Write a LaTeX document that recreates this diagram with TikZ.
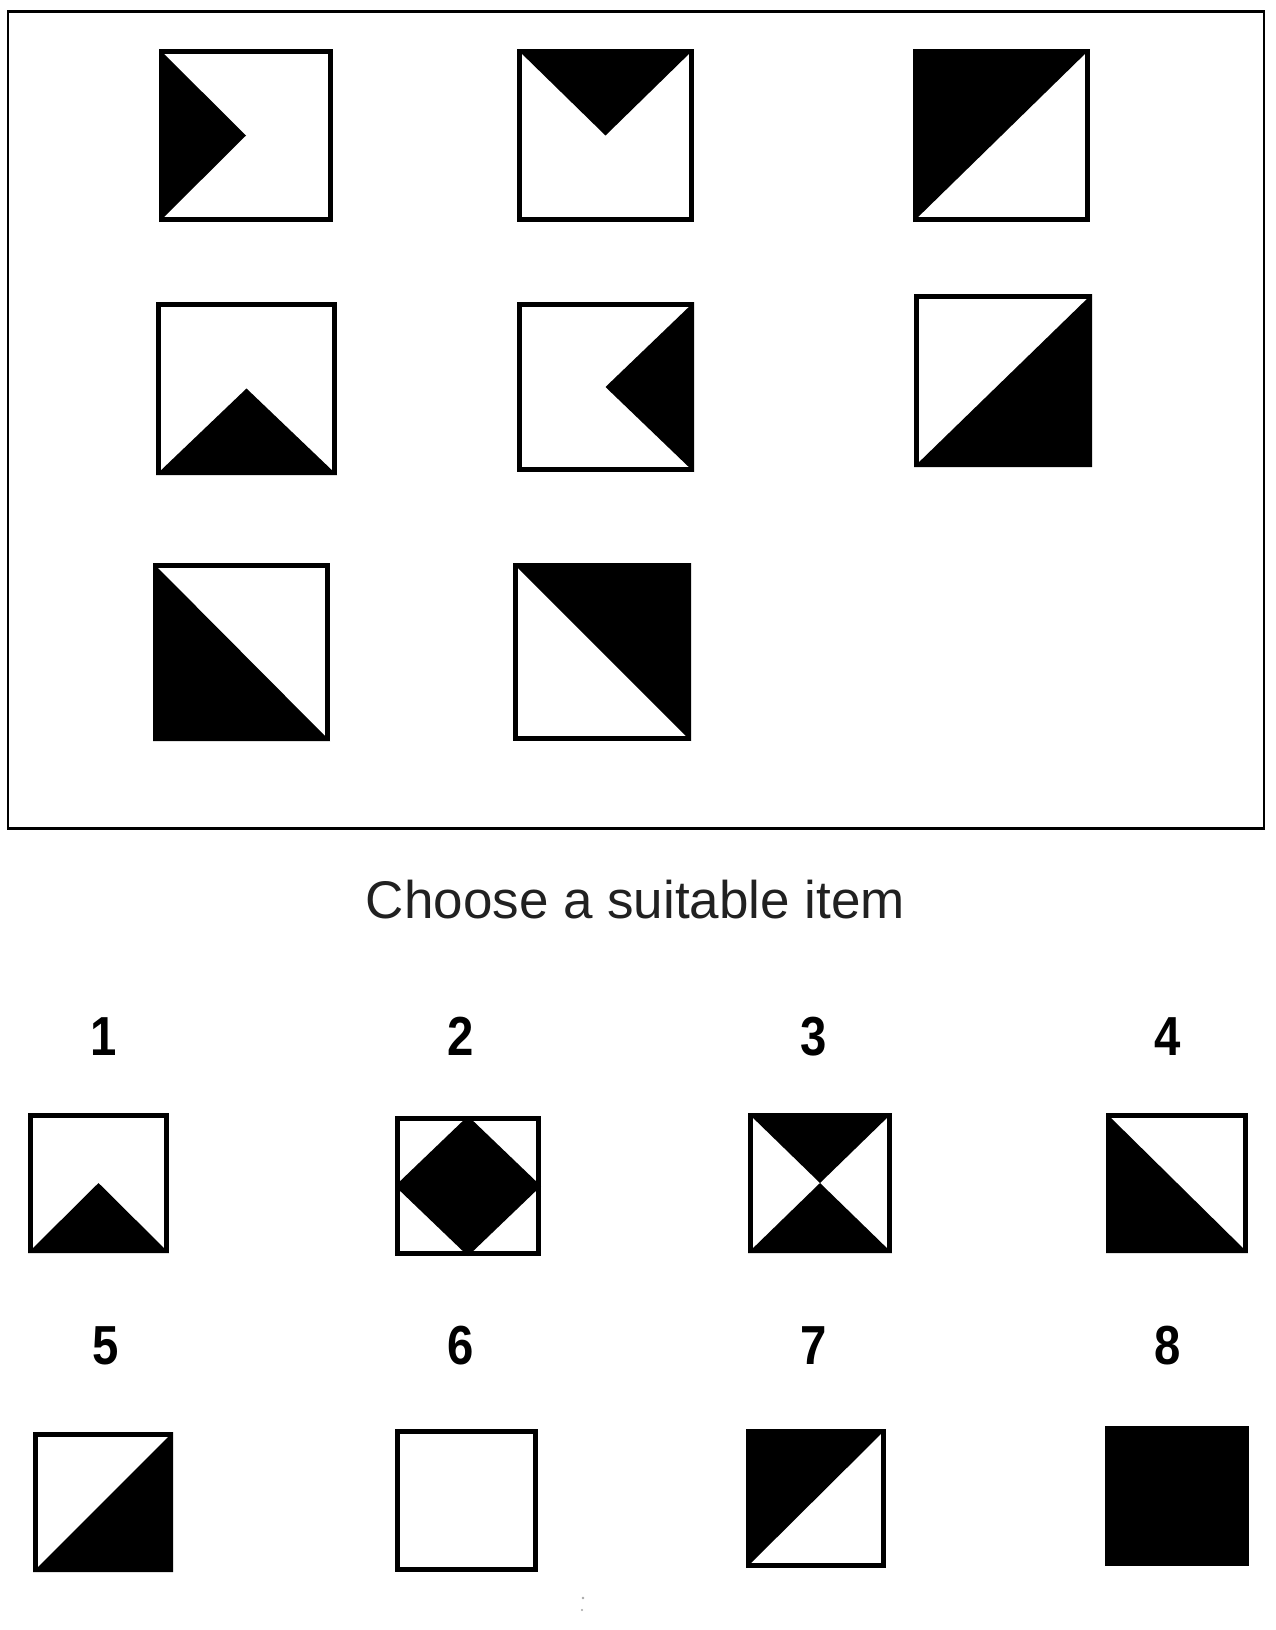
\documentclass[tikz,border=0pt]{standalone}
\usepackage{fontspec}
\setmainfont{Liberation Sans}
\definecolor{promptgray}{HTML}{212121}
\newcommand\puzsq[4]{\draw[sqline] ({#1+2.5},{#2+2.5}) rectangle ({#3-2.5},{#4-2.5});}
\newcommand\narrownum[1]{\scalebox{0.86}[1]{#1}}
\begin{document}
\begin{tikzpicture}[x=1pt,y=-1pt,
  sqline/.style={draw=black,line width=5pt,line join=miter},
  blk/.style={fill=black},
  frameline/.style={draw=black,line width=2.5pt},
  prompt/.style={font=\fontsize{53pt}{60pt}\selectfont, text=promptgray, inner sep=0pt, anchor=base},
  numlbl/.style={font=\fontsize{55pt}{60pt}\selectfont\bfseries, inner sep=0pt, anchor=base}]
\useasboundingbox (0,0) rectangle (1275,1630);
\fill[white] (0,0) rectangle (1275,1630);
% frame
\draw[frameline] (8,11.5) rectangle (1264,828.5);
% ---- puzzle grid ----
% A: left triangle
\fill[blk] (159,49) -- (159,222) -- (246,135.5) -- cycle;
\puzsq{159}{49}{333}{222}
% B: top triangle
\fill[blk] (517,49) -- (694,49) -- (605.5,135.5) -- cycle;
\puzsq{517}{49}{694}{222}
% C: upper-left half
\fill[blk] (913,49) -- (1090,49) -- (913,222) -- cycle;
\puzsq{913}{49}{1090}{222}
% D: bottom triangle
\fill[blk] (156,475) -- (337,475) -- (246.5,388.5) -- cycle;
\puzsq{156}{302}{337}{475}
% E: right triangle
\fill[blk] (694,302) -- (694,472) -- (605.5,387) -- cycle;
\puzsq{517}{302}{694}{472}
% F: lower-right half
\fill[blk] (1092,294) -- (1092,467) -- (914,467) -- cycle;
\puzsq{914}{294}{1092}{467}
% G: lower-left half
\fill[blk] (153,563) -- (153,741) -- (330,741) -- cycle;
\puzsq{153}{563}{330}{741}
% H: upper-right half
\fill[blk] (513,563) -- (691,563) -- (691,741) -- cycle;
\puzsq{513}{563}{691}{741}
% ---- prompt ----
\node[prompt] (prompt) at (635.5,918) {Choose a suitable item};
% ---- answer labels ----
\node[numlbl] (l1) at (104,1055) {\narrownum{1}};
\node[numlbl] (l2) at (461,1055) {\narrownum{2}};
\node[numlbl] (l3) at (814,1055) {\narrownum{3}};
\node[numlbl] (l4) at (1168,1055) {\narrownum{4}};
\node[numlbl] (l5) at (106,1364) {\narrownum{5}};
\node[numlbl] (l6) at (461,1364) {\narrownum{6}};
\node[numlbl] (l7) at (814,1364) {\narrownum{7}};
\node[numlbl] (l8) at (1168,1364) {\narrownum{8}};
% ---- answers ----
% 1
\fill[blk] (28,1253) -- (169,1253) -- (98.5,1183) -- cycle;
\puzsq{28}{1113}{169}{1253}
% 2
\fill[blk] (468,1116) -- (541,1186) -- (468,1256) -- (395,1186) -- cycle;
\puzsq{395}{1116}{541}{1256}
% 3
\fill[blk] (748,1113) -- (892,1113) -- (820,1183) -- cycle;
\fill[blk] (748,1253) -- (892,1253) -- (820,1183) -- cycle;
\puzsq{748}{1113}{892}{1253}
% 4
\fill[blk] (1106,1113) -- (1106,1253) -- (1248,1253) -- cycle;
\puzsq{1106}{1113}{1248}{1253}
% 5
\fill[blk] (173,1432) -- (173,1572) -- (33,1572) -- cycle;
\puzsq{33}{1432}{173}{1572}
% 6
\puzsq{395}{1429}{538}{1572}
% 7
\fill[blk] (746,1429) -- (886,1429) -- (746,1568) -- cycle;
\puzsq{746}{1429}{886}{1568}
% 8
\fill[blk] (1105,1426) rectangle (1249,1566);
% faint specks
\fill[gray!70] (583,1598) circle (1.3);
\fill[gray!70] (582,1610) circle (1.1);
\end{tikzpicture}
\end{document}
